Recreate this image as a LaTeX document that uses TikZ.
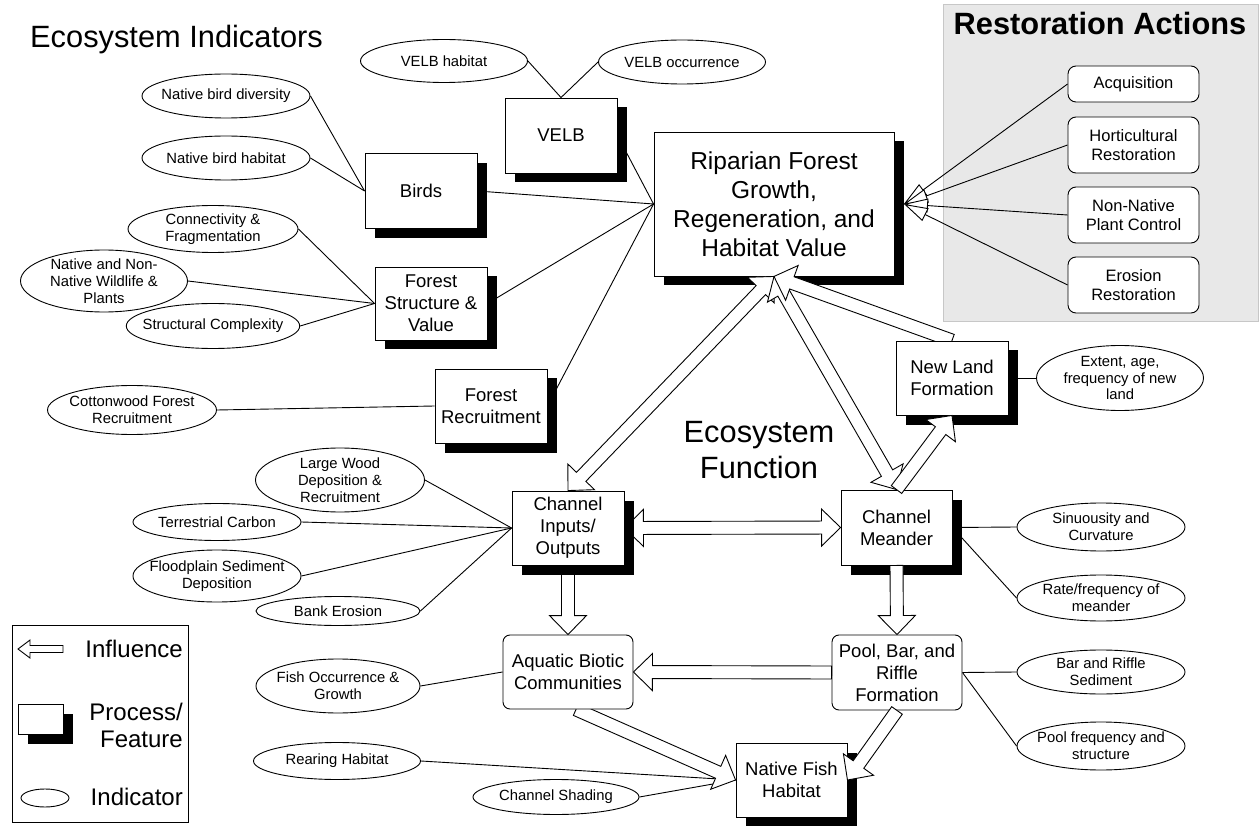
\documentclass[tikz,border=0pt]{standalone}
\usepackage{fontspec}
\setmainfont{Liberation Sans}
\usetikzlibrary{shapes.geometric,shadows,calc,arrows.meta}
\pgfdeclarelayer{panel}
\pgfdeclarelayer{low}
\pgfdeclarelayer{mid}
\pgfdeclarelayer{fore}
\pgfsetlayers{panel,low,mid,main,fore}
\def\basw{6.5pt}\def\bahw{18.5pt}\def\bahl{19pt}
\newcommand{\blockarrow}[2]{%
  \path (#1) coordinate (baA) (#2) coordinate (baB);
  \path ($(baB)!\bahl!(baA)$) coordinate (baH);
  \draw[barrow] ($(baA)!\basw!90:(baB)$) -- ($(baH)!\basw!90:(baB)$) -- ($(baH)!\bahw!90:(baB)$) -- (baB)
    -- ($(baH)!\bahw!-90:(baB)$) -- ($(baH)!\basw!-90:(baB)$) -- ($(baA)!\basw!-90:(baB)$) -- cycle;}
\newcommand{\dblockarrow}[2]{%
  \path (#1) coordinate (baA) (#2) coordinate (baB);
  \path ($(baB)!\bahl!(baA)$) coordinate (baH) ($(baA)!\bahl!(baB)$) coordinate (baG);
  \draw[barrow] ($(baG)!\basw!90:(baB)$) -- ($(baH)!\basw!90:(baB)$) -- ($(baH)!\bahw!90:(baB)$) -- (baB)
    -- ($(baH)!\bahw!-90:(baB)$) -- ($(baH)!\basw!-90:(baB)$) -- ($(baG)!\basw!-90:(baB)$)
    -- ($(baG)!\bahw!-90:(baB)$) -- (baA) -- ($(baG)!\bahw!90:(baB)$) -- cycle;}
\begin{document}
\begin{tikzpicture}[x=1pt,y=-1pt,
  link/.style={draw=black, line width=0.9pt},
  ind/.style={ellipse, draw, line width=0.9pt, fill=white, inner xsep=-9pt, inner ysep=-4pt, align=center, font=\fontsize{14.8}{16.8}\selectfont},
  procshadow/.style={drop shadow={shadow xshift=9.5pt, shadow yshift=-9.5pt, fill=black, opacity=1}},
  proc/.style={rectangle, draw, line width=0.9pt, fill=white, inner sep=0pt, align=center, font=\fontsize{18.5}{22}\selectfont, procshadow},
  rproc/.style={rectangle, rounded corners=7pt, draw, line width=0.9pt, fill=white, inner sep=0pt, align=center, font=\fontsize{18.5}{22}\selectfont},
  act/.style={rectangle, rounded corners=8pt, draw, line width=0.9pt, fill=white, inner sep=0pt, align=center, font=\fontsize{16.5}{19.5}\selectfont, minimum width=131pt},
  barrow/.style={draw=black, fill=white, line width=0.9pt, line join=miter},
  ttl/.style={inner sep=0pt, font=\fontsize{30.8}{36}\selectfont},
  legtxt/.style={inner sep=0pt, font=\fontsize{24}{27}\selectfont}
]
\useasboundingbox (0,0) rectangle (1259,826);
\begin{pgfonlayer}{panel}
  \fill[white] (0,0) rectangle (1259,826);
  \draw[fill=black!9, draw=black!22, line width=1pt] (943,5) rectangle (1258,322);
\end{pgfonlayer}

% titles
\node[ttl, anchor=base west] (t1) at (30,48) {Ecosystem Indicators};
\node[ttl, align=center] (t2) at (759,450) {Ecosystem\\Function};
\node[inner sep=0pt, anchor=base, font=\bfseries\fontsize{30.8}{36}\selectfont] (t3) at (1100,35) {Restoration Actions};

% process boxes
\begin{pgfonlayer}{low}
\node[proc, minimum width=240pt, minimum height=144pt, font=\fontsize{24.5}{29}\selectfont] (rip) at (774,204) {Riparian Forest\\Growth,\\Regeneration, and\\Habitat Value};
\end{pgfonlayer}
\node[proc, minimum width=112pt, minimum height=75pt] (velb) at (561,135.5) {VELB};
\node[proc, minimum width=112pt, minimum height=75pt] (birds) at (421,191) {Birds};
\node[proc, minimum width=112pt, minimum height=73pt] (fstruct) at (431,303.5) {Forest\\Structure \&\\Value};
\node[proc, minimum width=112pt, minimum height=74pt] (frec) at (491,406) {Forest\\Recruitment};
\node[proc, minimum width=112pt, minimum height=74pt] (nland) at (952,378) {New Land\\Formation};
\node[proc, minimum width=112pt, minimum height=74pt] (ci) at (568,528) {Channel\\Inputs/\\Outputs};
\node[proc, minimum width=111pt, minimum height=75pt] (cm) at (896.5,527.5) {Channel\\Meander};
\node[proc, minimum width=111pt, minimum height=74pt] (nfh) at (791.5,780) {Native Fish\\Habitat};
\node[rproc, minimum width=130pt, minimum height=74pt] (aq) at (568,672) {Aquatic Biotic\\Communities};
\node[rproc, minimum width=130pt, minimum height=75pt] (pool) at (897,672.5) {Pool, Bar, and\\Riffle\\Formation};

% restoration actions
\node[act, minimum height=36pt] (acq) at (1133.5,84) {Acquisition};
\node[act, minimum height=56pt] (hort) at (1133.5,145) {Horticultural\\Restoration};
\node[act, minimum height=56pt] (nnpc) at (1133.5,215) {Non-Native\\Plant Control};
\node[act, minimum height=56pt] (eros) at (1133.5,285) {Erosion\\Restoration};

% indicators
\node[ind, minimum width=167pt, minimum height=43pt] (vh) at (444,61) {VELB habitat};
\node[ind, minimum width=167pt, minimum height=44pt] (vo) at (682,62) {VELB occurrence};
\node[ind, minimum width=168pt, minimum height=44pt] (nbd) at (226,96) {Native bird diversity};
\node[ind, minimum width=168pt, minimum height=44pt] (nbh) at (226,158) {Native bird habitat};
\node[ind, minimum width=170pt, minimum height=47pt] (cnf) at (213,229) {Connectivity \&\\Fragmentation};
\node[ind, minimum width=167pt, minimum height=62pt] (wild) at (104,281) {Native and Non-\\Native Wildlife \&\\Plants};
\node[ind, minimum width=169pt, minimum height=45pt] (sc) at (213,326) {Structural Complexity};
\node[ind, minimum width=169pt, minimum height=49pt] (cott) at (132,410) {Cottonwood Forest\\Recruitment};
\node[ind, minimum width=169pt, minimum height=64pt] (lw) at (340,480) {Large Wood\\Deposition \&\\Recruitment};
\node[ind, minimum width=168pt, minimum height=37pt] (tc) at (217,522) {Terrestrial Carbon};
\node[ind, minimum width=168pt, minimum height=52pt] (fp) at (217,576) {Floodplain Sediment\\Deposition};
\node[ind, minimum width=164pt, minimum height=29pt] (be) at (338,611) {Bank Erosion};
\node[ind, minimum width=164pt, minimum height=54pt] (fish) at (338,686) {Fish Occurrence \&\\Growth};
\node[ind, minimum width=167pt, minimum height=37pt] (rear) at (337,761) {Rearing Habitat};
\node[ind, minimum width=166pt, minimum height=35pt] (shade) at (556,797) {Channel Shading};
\node[ind, minimum width=167pt, minimum height=65pt] (ext) at (1120,378) {Extent, age,\\frequency of new\\land};
\node[ind, minimum width=168pt, minimum height=48pt] (sin) at (1101,527) {Sinuousity and\\Curvature};
\node[ind, minimum width=168pt, minimum height=46pt] (rate) at (1101,598) {Rate/frequency of\\meander};
\node[ind, minimum width=168pt, minimum height=44pt] (bar) at (1101,672) {Bar and Riffle\\Sediment};
\node[ind, minimum width=168pt, minimum height=48pt] (pf) at (1101,746) {Pool frequency and\\structure};

% legend
\node[draw, line width=0.9pt, minimum width=176pt, minimum height=197pt, inner sep=0pt] (leg) at (100,723.5) {};
\node[proc, minimum width=45pt, minimum height=30pt] (legp) at (40.5,719) {};
\node[ind, minimum width=48pt, minimum height=18pt] (lege) at (45,798) {};
\coordinate (lgA) at (63,649);
\coordinate (lgB) at (18,649);
\node[legtxt, anchor=base east] (lt1) at (183,657) {Influence};
\node[legtxt, anchor=east, align=right] (lt2) at (183,725) {Process/\\Feature};
\node[legtxt, anchor=base east] (lt3) at (183,805) {Indicator};

\coordinate (ripR) at ($(rip.east)+(9.5,0)$);
\coordinate (aqS) at ($(aq.south)+(8,0)$);

\begin{pgfonlayer}{mid}
  \draw[link] (vh.east) -- (velb.north);
  \draw[link] (vo.west) -- (velb.north);
  \draw[link] (nbd.east) -- (birds.west);
  \draw[link] (nbh.east) -- (birds.west);
  \draw[link] (cnf.east) -- (fstruct.west);
  \draw[link] (wild.east) -- (fstruct.west);
  \draw[link] (sc.east) -- (fstruct.west);
  \draw[link] (cott.east) -- (frec.west);
  \draw[link] (velb.east) -- (rip.west);
  \draw[link] (birds.east) -- (rip.west);
  \draw[link] (fstruct.east) -- (rip.west);
  \draw[link] (frec.east) -- (rip.west);
  \draw[link] (lw.east) -- (ci.west);
  \draw[link] (tc.east) -- (ci.west);
  \draw[link] (fp.east) -- (ci.west);
  \draw[link] (be.east) -- (ci.west);
  \draw[link] (fish.east) -- (aq.west);
  \draw[link] (rear.east) -- (nfh.west);
  \draw[link] (shade.east) -- (nfh.west);
  \draw[link] (nland.east) -- (ext.west);
  \draw[link] (cm.east) -- (sin.west);
  \draw[link] (cm.east) -- (rate.west);
  \draw[link] (pool.east) -- (bar.west);
  \draw[link] (pool.east) -- (pf.west);
  \dblockarrow{ci.north}{rip.south}
  \dblockarrow{rip.south}{cm.north}
  \blockarrow{nland.north}{rip.south}
  \dblockarrow{ci.east}{cm.west}
  \blockarrow{ci.south}{aq.north}
  \blockarrow{aqS}{nfh.west}
\end{pgfonlayer}

\begin{pgfonlayer}{fore}
  \blockarrow{cm.north}{nland.south}
  \blockarrow{cm.south}{pool.north}
  \blockarrow{pool.west}{aq.east}
  \blockarrow{pool.south}{nfh.east}
  \foreach \a in {acq,hort,nnpc,eros}
    \draw[link, -{Triangle[length=24pt, width=14pt, fill=white, line width=0.9pt]}] (\a.west) -- (ripR);
  \begin{scope}
    \def\basw{3.5pt}\def\bahw{9pt}\def\bahl{12pt}
    \blockarrow{lgA}{lgB}
  \end{scope}
\end{pgfonlayer}
\end{tikzpicture}
\end{document}
